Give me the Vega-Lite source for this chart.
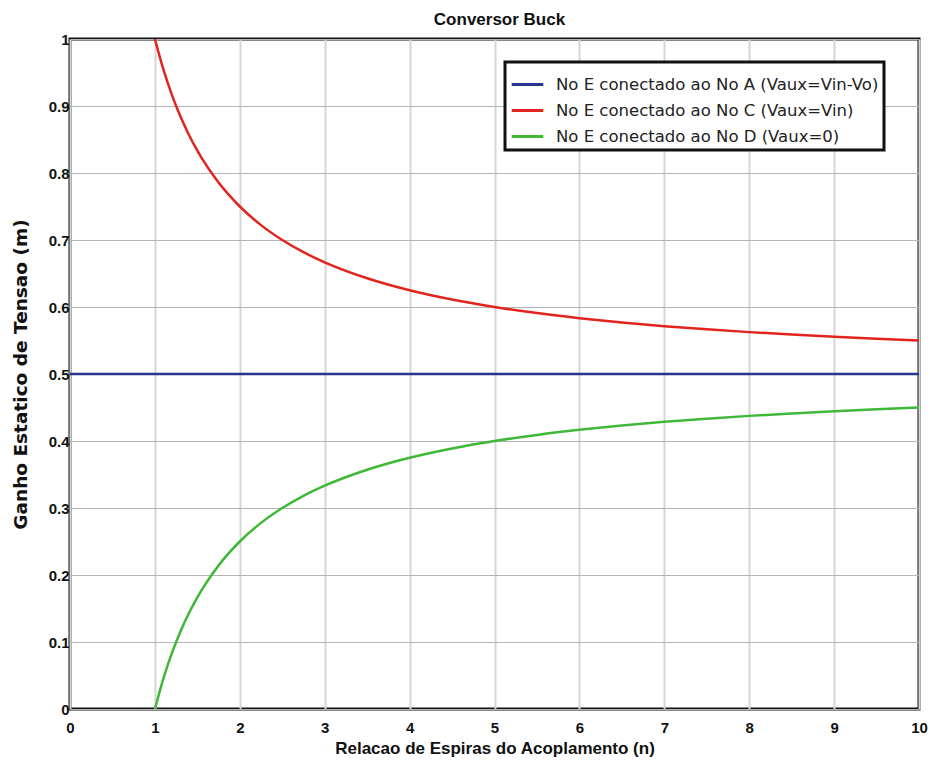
{
  "$schema": "https://vega.github.io/schema/vega-lite/v6.json",
  "width": 849,
  "height": 670,
  "autosize": {"type": "none"},
  "padding": {"left": 70, "top": 39, "right": 11, "bottom": 53},
  "background": "white",
  "title": {"text": "Conversor Buck", "font": "Liberation Sans", "fontSize": 17, "fontWeight": "bold", "color": "#111", "offset": 3, "anchor": "middle", "dx": 5},
  "config": {
    "view": {"stroke": "#111", "strokeWidth": 3},
    "axis": {"labelFont": "Liberation Sans", "labelFontWeight": "bold", "labelFontSize": 15, "labelColor": "#111", "titleFont": "Liberation Sans", "titleFontWeight": "bold", "titleFontSize": 17, "titleColor": "#111", "domain": false, "ticks": false},
    "legend": {"strokeWidth": 3}
  },
  "data": {"values": [
    {"n": 0, "m": 0.5, "s": "No E conectado ao No A (Vaux=Vin-Vo)"},
    {"n": 10, "m": 0.5, "s": "No E conectado ao No A (Vaux=Vin-Vo)"},
    {"n": 1, "m": 1.0, "s": "No E conectado ao No C (Vaux=Vin)"},
    {"n": 1.1, "m": 0.9545, "s": "No E conectado ao No C (Vaux=Vin)"},
    {"n": 1.2, "m": 0.9167, "s": "No E conectado ao No C (Vaux=Vin)"},
    {"n": 1.3, "m": 0.8846, "s": "No E conectado ao No C (Vaux=Vin)"},
    {"n": 1.4, "m": 0.8571, "s": "No E conectado ao No C (Vaux=Vin)"},
    {"n": 1.5, "m": 0.8333, "s": "No E conectado ao No C (Vaux=Vin)"},
    {"n": 1.75, "m": 0.7857, "s": "No E conectado ao No C (Vaux=Vin)"},
    {"n": 2, "m": 0.75, "s": "No E conectado ao No C (Vaux=Vin)"},
    {"n": 2.25, "m": 0.7222, "s": "No E conectado ao No C (Vaux=Vin)"},
    {"n": 2.5, "m": 0.7, "s": "No E conectado ao No C (Vaux=Vin)"},
    {"n": 2.75, "m": 0.6818, "s": "No E conectado ao No C (Vaux=Vin)"},
    {"n": 3, "m": 0.6667, "s": "No E conectado ao No C (Vaux=Vin)"},
    {"n": 3.5, "m": 0.6429, "s": "No E conectado ao No C (Vaux=Vin)"},
    {"n": 4, "m": 0.625, "s": "No E conectado ao No C (Vaux=Vin)"},
    {"n": 4.5, "m": 0.6111, "s": "No E conectado ao No C (Vaux=Vin)"},
    {"n": 5, "m": 0.6, "s": "No E conectado ao No C (Vaux=Vin)"},
    {"n": 5.5, "m": 0.5909, "s": "No E conectado ao No C (Vaux=Vin)"},
    {"n": 6, "m": 0.5833, "s": "No E conectado ao No C (Vaux=Vin)"},
    {"n": 6.5, "m": 0.5769, "s": "No E conectado ao No C (Vaux=Vin)"},
    {"n": 7, "m": 0.5714, "s": "No E conectado ao No C (Vaux=Vin)"},
    {"n": 7.5, "m": 0.5667, "s": "No E conectado ao No C (Vaux=Vin)"},
    {"n": 8, "m": 0.5625, "s": "No E conectado ao No C (Vaux=Vin)"},
    {"n": 8.5, "m": 0.5588, "s": "No E conectado ao No C (Vaux=Vin)"},
    {"n": 9, "m": 0.5556, "s": "No E conectado ao No C (Vaux=Vin)"},
    {"n": 9.5, "m": 0.5526, "s": "No E conectado ao No C (Vaux=Vin)"},
    {"n": 10, "m": 0.55, "s": "No E conectado ao No C (Vaux=Vin)"},
    {"n": 1, "m": 0.0, "s": "No E conectado ao No D (Vaux=0)"},
    {"n": 1.1, "m": 0.0455, "s": "No E conectado ao No D (Vaux=0)"},
    {"n": 1.2, "m": 0.0833, "s": "No E conectado ao No D (Vaux=0)"},
    {"n": 1.3, "m": 0.1154, "s": "No E conectado ao No D (Vaux=0)"},
    {"n": 1.4, "m": 0.1429, "s": "No E conectado ao No D (Vaux=0)"},
    {"n": 1.5, "m": 0.1667, "s": "No E conectado ao No D (Vaux=0)"},
    {"n": 1.75, "m": 0.2143, "s": "No E conectado ao No D (Vaux=0)"},
    {"n": 2, "m": 0.25, "s": "No E conectado ao No D (Vaux=0)"},
    {"n": 2.25, "m": 0.2778, "s": "No E conectado ao No D (Vaux=0)"},
    {"n": 2.5, "m": 0.3, "s": "No E conectado ao No D (Vaux=0)"},
    {"n": 2.75, "m": 0.3182, "s": "No E conectado ao No D (Vaux=0)"},
    {"n": 3, "m": 0.3333, "s": "No E conectado ao No D (Vaux=0)"},
    {"n": 3.5, "m": 0.3571, "s": "No E conectado ao No D (Vaux=0)"},
    {"n": 4, "m": 0.375, "s": "No E conectado ao No D (Vaux=0)"},
    {"n": 4.5, "m": 0.3889, "s": "No E conectado ao No D (Vaux=0)"},
    {"n": 5, "m": 0.4, "s": "No E conectado ao No D (Vaux=0)"},
    {"n": 5.5, "m": 0.4091, "s": "No E conectado ao No D (Vaux=0)"},
    {"n": 6, "m": 0.4167, "s": "No E conectado ao No D (Vaux=0)"},
    {"n": 6.5, "m": 0.4231, "s": "No E conectado ao No D (Vaux=0)"},
    {"n": 7, "m": 0.4286, "s": "No E conectado ao No D (Vaux=0)"},
    {"n": 7.5, "m": 0.4333, "s": "No E conectado ao No D (Vaux=0)"},
    {"n": 8, "m": 0.4375, "s": "No E conectado ao No D (Vaux=0)"},
    {"n": 8.5, "m": 0.4412, "s": "No E conectado ao No D (Vaux=0)"},
    {"n": 9, "m": 0.4444, "s": "No E conectado ao No D (Vaux=0)"},
    {"n": 9.5, "m": 0.4474, "s": "No E conectado ao No D (Vaux=0)"},
    {"n": 10, "m": 0.45, "s": "No E conectado ao No D (Vaux=0)"}
  ]},
  "mark": {"type": "line", "strokeWidth": 2.5, "interpolate": "monotone", "clip": true},
  "encoding": {
    "x": {"field": "n", "type": "quantitative", "scale": {"domain": [0, 10], "nice": false, "zero": false},
      "axis": {"title": "Relacao de Espiras do Acoplamento (n)", "values": [0,1,2,3,4,5,6,7,8,9,10], "labelPadding": 11, "titlePadding": 5, "gridColor": "#d6d6d6", "gridWidth": 2, "labelFlush": false, "labelOverlap": false}},
    "y": {"field": "m", "type": "quantitative", "scale": {"domain": [0, 1], "nice": false},
      "axis": {"title": "Ganho Estatico de Tensao (m)", "titleFont": "DejaVu Sans", "titleFontSize": 18.5, "values": [0,0.1,0.2,0.3,0.4,0.5,0.6,0.7,0.8,0.9,1], "labelExpr": "datum.value == 0 ? '0' : datum.value == 1 ? '1' : format(datum.value, '.1f')", "labelPadding": 1, "titlePadding": 18, "gridColor": "#b4b4b4", "gridWidth": 1, "labelFlush": false, "labelOverlap": false}},
    "color": {"field": "s", "type": "nominal",
      "scale": {"domain": ["No E conectado ao No A (Vaux=Vin-Vo)", "No E conectado ao No C (Vaux=Vin)", "No E conectado ao No D (Vaux=0)"], "range": ["#27358c", "#e2241e", "#3fb838"]},
      "legend": {"title": null, "orient": "none", "legendX": 435, "legendY": 23, "symbolType": "stroke", "symbolSize": 1000, "symbolStrokeWidth": 3, "labelFont": "DejaVu Sans", "labelFontSize": 16.5, "labelColor": "#222", "labelLimit": 400, "padding": 5, "rowPadding": -9, "strokeColor": "#111", "fillColor": "white", "labelOffset": 11}}
  }
}
